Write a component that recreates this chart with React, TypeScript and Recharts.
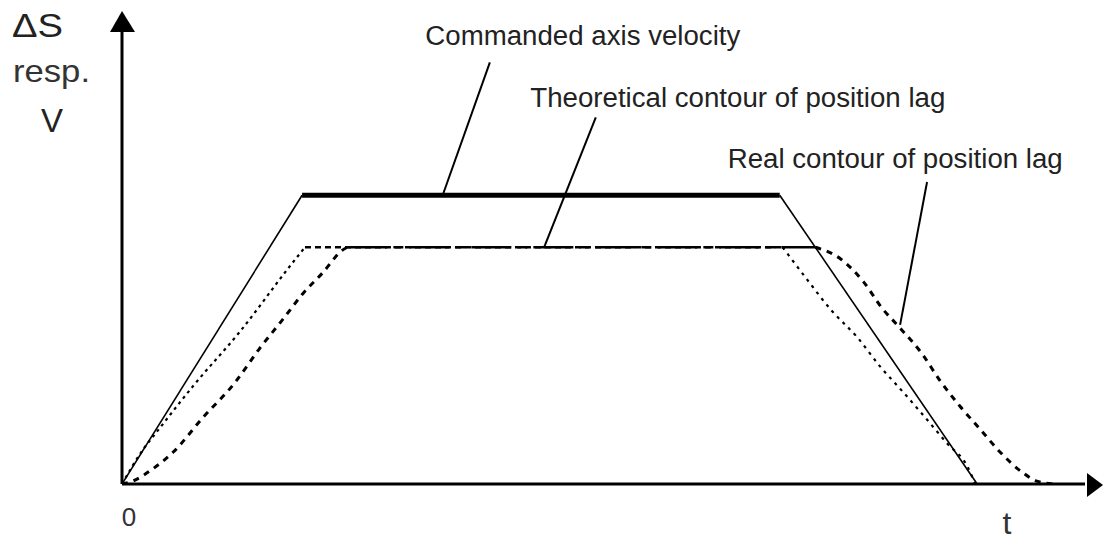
import { LineChart, Line, XAxis, YAxis, ReferenceLine, ReferenceDot } from "recharts"

// time axis (arbitrary units) and normalised velocity / lag
const commandedT = [0, 1.87, 6.83, 8.88]
const commandedV = [0, 1, 1, 0]

const theoreticalT = [0, 0.22, 0.36, 0.74, 1.23, 1.71, 1.9, 6.86, 7.11, 7.37, 7.63, 7.89, 8.08, 8.29, 8.57, 8.78, 8.86]
const theoreticalV = [0, 0.12, 0.18, 0.34, 0.53, 0.74, 0.82, 0.82, 0.71, 0.6, 0.51, 0.4, 0.33, 0.25, 0.14, 0.06, 0]

const realT = [0, 0.11, 0.31, 0.53, 0.84, 1.17, 1.43, 1.67, 1.88, 2.08, 2.29, 2.34, 7.2, 7.46, 7.7, 7.89, 8.08, 8.31, 8.49, 8.7, 8.91, 9.12, 9.35, 9.5, 9.67]
const realV = [0, 0.01, 0.05, 0.11, 0.23, 0.35, 0.47, 0.57, 0.66, 0.73, 0.81, 0.82, 0.82, 0.78, 0.7, 0.61, 0.54, 0.45, 0.36, 0.27, 0.19, 0.11, 0.04, 0.01, 0]

const captionTexts = ["Commanded axis velocity", "Theoretical contour of position lag", "Real contour of position lag"]
const captionT = [3.15, 4.24, 6.29]
const captionV = [1.52, 1.306, 1.094]
const captionWidths = [315, 415, 335]

// leader lines: from caption down to the curve
const leaderFromT = [3.82, 4.92, 8.36]
const leaderFromV = [1.46, 1.27, 1.046]
const leaderToT = [3.33, 4.38, 8.08]
const leaderToV = [1.0, 0.817, 0.551]

const FONT = "'Liberation Sans', Arial, sans-serif"

const pts = (ts: number[], vs: number[], from: number, to: number) =>
  ts.slice(from, to + 1).map((t, i) => ({ t, v: vs[from + i] }))

const caption = (text: string, width: number) => (p: any) => (
  <text
    x={p.cx}
    y={p.cy}
    fontFamily={FONT}
    fontSize={27}
    fill="#222"
    textLength={width}
    lengthAdjust="spacingAndGlyphs"
  >
    {text}
  </text>
)

export default function App() {
  const lastTheo = theoreticalT.length - 1
  const lastReal = realT.length - 1

  return (
    <div style={{ position: "absolute", left: 0, top: 0, width: 1103, height: 541, background: "#fff" }}>
      <LineChart width={1103} height={541} margin={{ top: 22, right: 18, bottom: 0, left: 122 }}>
        <XAxis
          type="number"
          dataKey="t"
          domain={[0, 10]}
          ticks={[0]}
          height={57}
          tickLine={false}
          tickMargin={18}
          tick={{ fill: "#333", fontSize: 26, fontFamily: FONT, dx: 7 }}
          axisLine={{ stroke: "#000", strokeWidth: 3 }}
          allowDataOverflow
        />
        <YAxis type="number" domain={[0, 1.6]} hide allowDataOverflow />

        {/* vertical axis */}
        <ReferenceLine segment={[{ x: 0, y: 0 }, { x: 0, y: 1.58 }]} stroke="#000" strokeWidth={3} ifOverflow="visible" />

        {/* commanded axis velocity */}
        <Line data={pts(commandedT, commandedV, 0, 1)} dataKey="v" type="linear" stroke="#000" strokeWidth={1.6} dot={false} isAnimationActive={false} />
        <Line data={pts(commandedT, commandedV, 1, 2)} dataKey="v" type="linear" stroke="#000" strokeWidth={5} dot={false} isAnimationActive={false} />
        <Line data={pts(commandedT, commandedV, 2, 3)} dataKey="v" type="linear" stroke="#000" strokeWidth={1.6} dot={false} isAnimationActive={false} />

        {/* theoretical contour */}
        <Line data={pts(theoreticalT, theoreticalV, 0, 6)} dataKey="v" type="monotone" stroke="#000" strokeWidth={2.2} strokeDasharray="3 4" dot={false} isAnimationActive={false} />
        <Line data={pts(theoreticalT, theoreticalV, 6, 7)} dataKey="v" type="linear" stroke="#000" strokeWidth={2.5} strokeDasharray="6 4" dot={false} isAnimationActive={false} />
        <Line data={pts(theoreticalT, theoreticalV, 7, lastTheo)} dataKey="v" type="monotone" stroke="#000" strokeWidth={2.2} strokeDasharray="3 5" dot={false} isAnimationActive={false} />

        {/* real contour */}
        <Line data={pts(realT, realV, 0, 11)} dataKey="v" type="monotone" stroke="#000" strokeWidth={3} strokeDasharray="6 6" dot={false} isAnimationActive={false} />
        <Line data={pts(realT, realV, 11, 12)} dataKey="v" type="linear" stroke="#000" strokeWidth={2.5} strokeDasharray="40 6 10 6" dot={false} isAnimationActive={false} />
        <Line data={pts(realT, realV, 12, lastReal)} dataKey="v" type="monotone" stroke="#000" strokeWidth={3} strokeDasharray="6 6" dot={false} isAnimationActive={false} />

        {leaderFromT.map((t, i) => (
          <ReferenceLine
            key={"l" + i}
            segment={[{ x: t, y: leaderFromV[i] }, { x: leaderToT[i], y: leaderToV[i] }]}
            stroke="#000"
            strokeWidth={2}
            ifOverflow="visible"
          />
        ))}

        {captionTexts.map((text, i) => (
          <ReferenceDot
            key={"c" + i}
            x={captionT[i]}
            y={captionV[i]}
            r={0}
            ifOverflow="visible"
            shape={caption(text, captionWidths[i])}
          />
        ))}
      </LineChart>

      {/* axis arrows and axis titles */}
      <svg width={1103} height={541} style={{ position: "absolute", left: 0, top: 0, pointerEvents: "none" }}>
        <polygon points="1087,473 1103,485 1087,497" fill="#000" />
        <polygon points="110,32 122,11 135,32" fill="#000" />
        <g fontFamily={FONT} fill="#222">
          <text x={12} y={37} fontSize={33} textLength={51} lengthAdjust="spacingAndGlyphs">ΔS</text>
          <text x={13} y={82} fontSize={32} fill="#333" textLength={77} lengthAdjust="spacingAndGlyphs">resp.</text>
          <text x={52} y={132} fontSize={33} textAnchor="middle">V</text>
          <text x={1007} y={534} fontSize={32} fill="#333" textAnchor="middle">t</text>
        </g>
      </svg>
    </div>
  )
}
